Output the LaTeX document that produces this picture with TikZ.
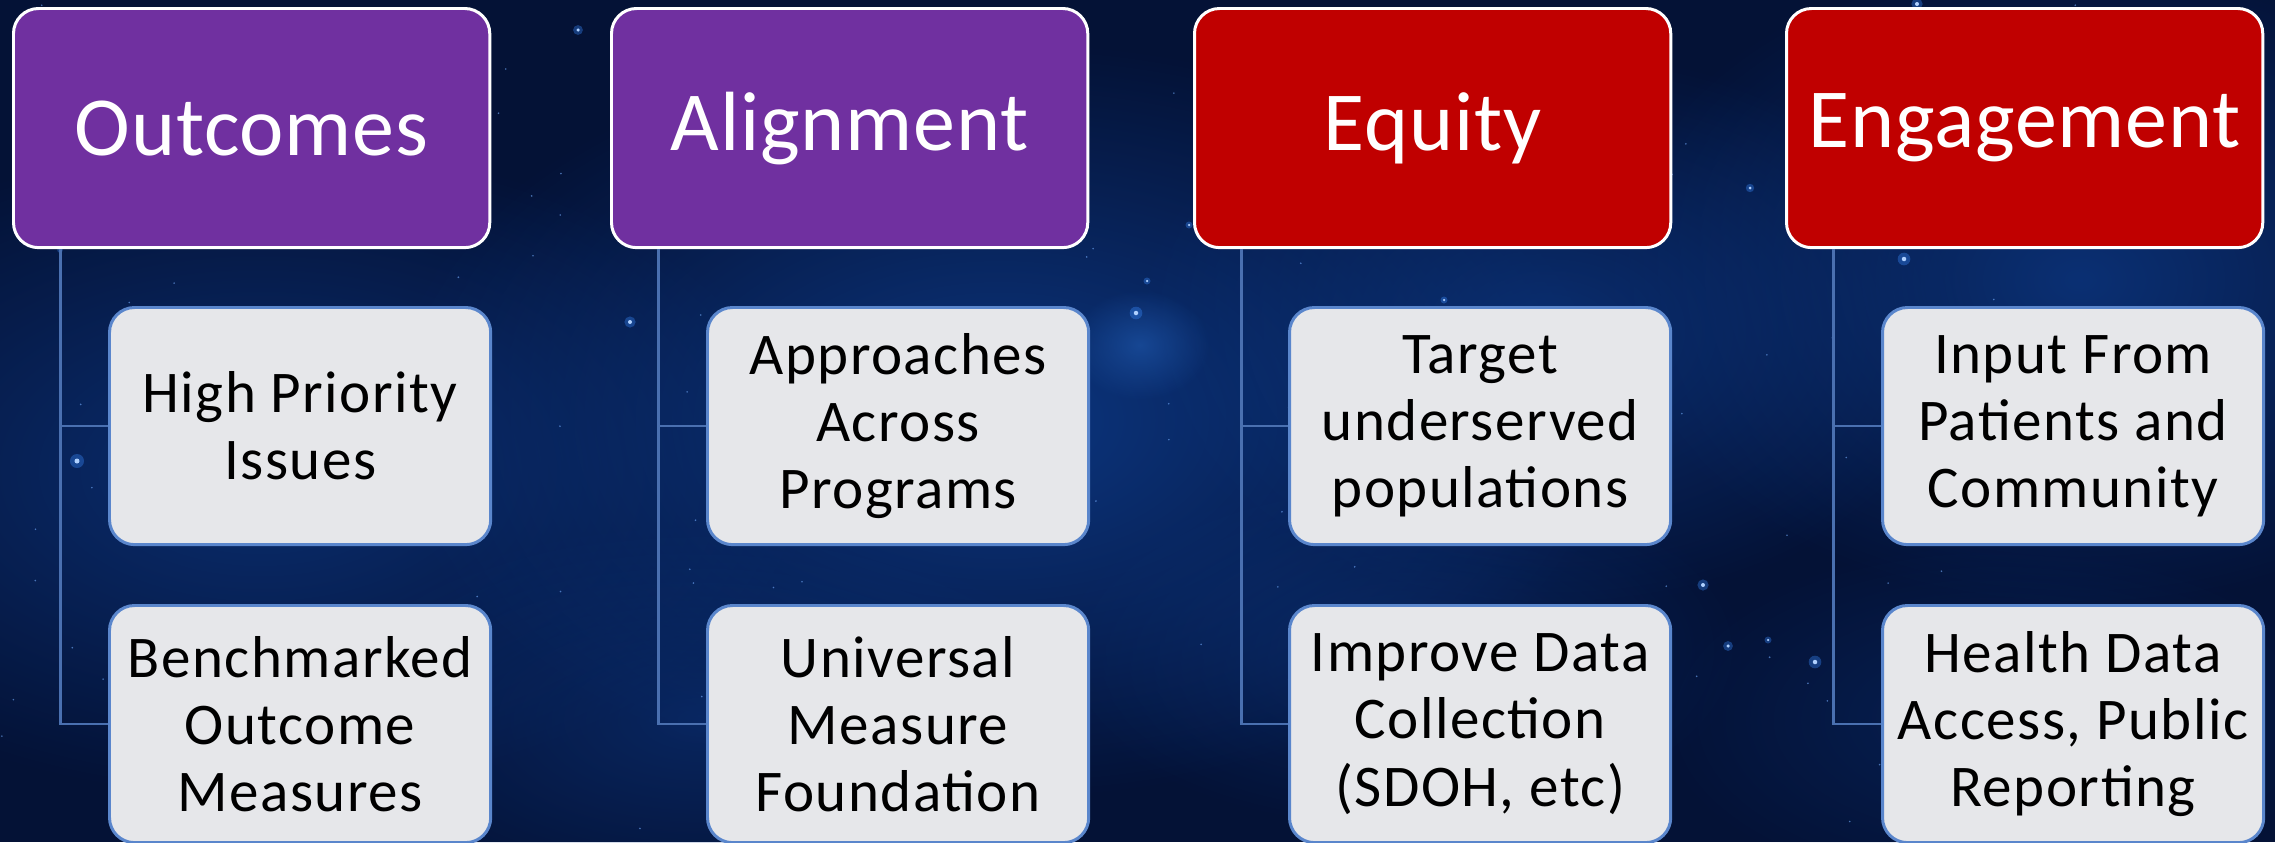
\documentclass[tikz,border=0pt]{standalone}
\usepackage{fontspec}
\setmainfont{Carlito}
\newfontfamily\itemfont[LetterSpace=2.5]{Carlito}
\newfontfamily\headfont[LetterSpace=1]{Carlito}
\usetikzlibrary{fadings}

\definecolor{bgdark}{HTML}{041236}
\definecolor{nebula}{HTML}{0D3A88}
\definecolor{nebulalight}{HTML}{1A4E9E}
\definecolor{hdrpurple}{HTML}{7030A0}
\definecolor{hdrred}{HTML}{C00000}
\definecolor{itemfill}{HTML}{E6E7EA}
\definecolor{itemline}{HTML}{5A86CC}
\definecolor{linkline}{HTML}{4A70B0}
\definecolor{starblue}{HTML}{3A8CFF}

\tikzfading[name=soft edge, inner color=transparent!0, outer color=transparent!100]

\tikzset{
  header/.style={rectangle, rounded corners=0.25cm, draw=white, line width=0.85pt,
    text=white, font=\headfont\fontsize{23.9}{28}\selectfont, inner sep=0pt,
    minimum width=4.76cm, minimum height=2.39cm, anchor=north west},
  item/.style={rectangle, rounded corners=0.25cm, draw=itemline, fill=itemfill,
    line width=0.85pt, text=black, font=\itemfont\fontsize{16.8}{19.1}\selectfont,
    align=center, inner sep=0pt, minimum width=3.81cm, minimum height=2.37cm,
    anchor=north west},
  link/.style={draw=linkline, line width=0.6pt},
  haze/.style={fill=nebula, path fading=soft edge, fit fading=true},
  glow/.style={fill=starblue, opacity=0.35},
  core/.style={fill=white!60!starblue}
}

\begin{document}
\begin{tikzpicture}[x=0.01cm, y=-0.01cm]
\useasboundingbox (0,0) rectangle (2275,842);

% night sky
\fill[bgdark] (0,0) rectangle (2275,842);
\fill[haze, opacity=0.7] (260,470) ellipse (560 and 330);
\fill[haze, opacity=0.9] (1000,420) ellipse (620 and 380);
\fill[haze, opacity=0.7] (1550,330) ellipse (420 and 280);
\fill[haze, opacity=0.75] (2080,280) ellipse (480 and 330);
\fill[haze, opacity=0.5] (700,720) ellipse (400 and 200);
\fill[haze, opacity=0.45] (1400,650) ellipse (350 and 180);
\fill[haze, opacity=0.35] (2000,720) ellipse (350 and 180);
\fill[haze, fill=nebulalight, opacity=0.8] (1140,345) ellipse (70 and 55);

% faint stars
\pgfmathsetseed{11}
\foreach \i in {1,...,140} {
  \pgfmathsetmacro{\sx}{rnd*2275}
  \pgfmathsetmacro{\sy}{rnd*842}
  \fill[starblue!70!white, opacity=0.6] (\sx,\sy) circle (0.009cm);
}

% brighter stars
\foreach \x/\y/\r in {77/461/1.0, 1136/313/0.9, 578/30/0.7, 630/322/0.8,
    1703/585/0.8, 1904/259/0.9, 1750/188/0.6, 1917/4/0.8, 1728/646/0.7,
    1815/662/0.9, 1768/640/0.5, 2094/160/0.6, 1521/222/0.5, 1444/300/0.5,
    1147/281/0.5, 1189/225/0.5, 2230/700/0.6, 2205/710/0.5, 60/250/0.4,
    380/330/0.4, 1000/160/0.4, 845/160/0.5, 2160/820/0.5} {
  \fill[glow] (\x,\y) circle ({0.07cm*\r});
  \fill[core] (\x,\y) circle ({0.025cm*\r});
}

% column 1
\node[header, fill=hdrpurple] (h1) at (12,7) {Outcomes};
\node[item] (a1) at (108,306) {High Priority\\Issues};
\node[item] (b1) at (108,604) {Benchmarked\\Outcome\\Measures};

% column 2
\node[header, fill=hdrpurple] (h2) at (610,7) {Alignment};
\node[item] (a2) at (706,306) {Approaches\\Across\\Programs};
\node[item] (b2) at (706,604) {Universal\\Measure\\Foundation};

% column 3
\node[header, fill=hdrred] (h3) at (1193,7) {Equity};
\node[item] (a3) at (1288,306) {Target\\underserved\\populations};
\node[item] (b3) at (1288,604) {Improve Data\\Collection\\(SDOH, etc)};

% column 4
\node[header, fill=hdrred] (h4) at (1785,7) {Engagement};
\node[item] (a4) at (1881,306) {Input From\\Patients and\\Community};
\node[item] (b4) at (1881,604) {Health Data\\Access, Public\\Reporting};

% connectors
\foreach \k in {1,2,3,4} {
  \draw[link] ([xshift=0.485cm]h\k.south west) |- (a\k.west);
  \draw[link] ([xshift=0.485cm]h\k.south west) |- (b\k.west);
}
\end{tikzpicture}
\end{document}
